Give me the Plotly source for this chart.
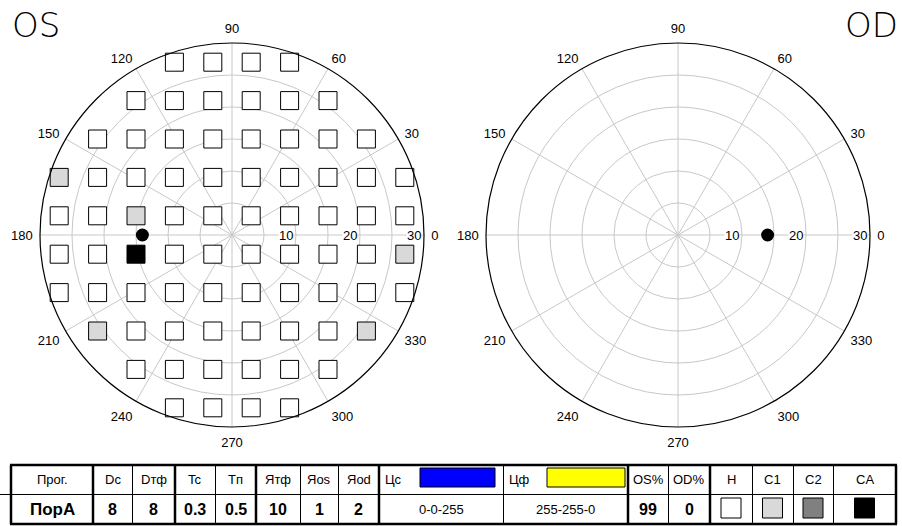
import math
import plotly.graph_objects as go

# ---------------- data ----------------
# 30-2 stimulus grid (degrees), rows of the OS field
row_y = [27, 21, 15, 9, 3, -3, -9, -15, -21, -27]
row_x = [
    [-9, -3, 3, 9],
    [-15, -9, -3, 3, 9, 15],
    [-21, -15, -9, -3, 3, 9, 15, 21],
    [-27, -21, -15, -9, -3, 3, 9, 15, 21, 27],
    [-27, -21, -15, -9, -3, 3, 9, 15, 21, 27],
    [-27, -21, -15, -9, -3, 3, 9, 15, 21, 27],
    [-27, -21, -15, -9, -3, 3, 9, 15, 21, 27],
    [-21, -15, -9, -3, 3, 9, 15, 21],
    [-15, -9, -3, 3, 9, 15],
    [-9, -3, 3, 9],
]
# points with relative defects (C1) and absolute defect (CA)
c1_points = [(-27, 9), (-15, 3), (27, -3), (-21, -15), (21, -15)]
ca_points = [(-15, -3)]

# blind spot markers (r in degrees, theta in degrees)
os_blind = (14, 180)
od_blind = (14, 0)

angular_ticks = [0, 30, 60, 90, 120, 150, 180, 210, 240, 270, 300, 330]
radial_labels = [10, 20, 30]
r_max = 30

table_headers = ["Прог.", "Dc", "Dтф", "Tc", "Tп", "Ятф", "Яos", "Яod",
                 "Цс", "Цф", "OS%", "OD%", "H", "C1", "C2", "CA"]
table_values = ["ПорА", "8", "8", "0.3", "0.5", "10", "1", "2",
                "0-0-255", "255-255-0", "99", "0", "", "", "", ""]
stim_color = "rgb(0,0,255)"
bg_color = "rgb(255,255,0)"
state_colors = {"H": "#ffffff", "C1": "#d9d9d9", "C2": "#808080", "CA": "#000000"}

# ---------------- layout constants ----------------
W, H = 902, 526
R = 192
OS_C = (232, 235)
OD_C = (678, 235)
GRID = "#c8c8c8"
FONT = "Liberation Sans, Arial, sans-serif"


def fx(px):
    return px / W


def fy(py):
    return 1 - py / H


def domain(c):
    return dict(x=[fx(c[0] - R), fx(c[0] + R)], y=[fy(c[1] + R), fy(c[1] - R)])


# stimulus points -> polar coordinates
pts_r, pts_t, pts_c = [], [], []
for y, xs in zip(row_y, row_x):
    for x in xs:
        pts_r.append(math.hypot(x, y))
        pts_t.append(math.degrees(math.atan2(y, x)))
        if (x, y) in ca_points:
            pts_c.append(state_colors["CA"])
        elif (x, y) in c1_points:
            pts_c.append(state_colors["C1"])
        else:
            pts_c.append(state_colors["H"])

fig = go.Figure()
fig.add_trace(go.Scatterpolar(
    r=pts_r, theta=pts_t, mode="markers", subplot="polar",
    marker=dict(symbol="square", size=18, color=pts_c,
                line=dict(color="#000000", width=1)),
    hoverinfo="skip", showlegend=False))
fig.add_trace(go.Scatterpolar(
    r=[os_blind[0]], theta=[os_blind[1]], mode="markers", subplot="polar",
    marker=dict(symbol="circle", size=13, color="#000000"),
    hoverinfo="skip", showlegend=False))
fig.add_trace(go.Scatterpolar(
    r=[od_blind[0]], theta=[od_blind[1]], mode="markers", subplot="polar2",
    marker=dict(symbol="circle", size=13, color="#000000"),
    hoverinfo="skip", showlegend=False))


def polar_cfg(c):
    return dict(
        domain=domain(c),
        bgcolor="white",
        radialaxis=dict(range=[0, r_max], dtick=5, tick0=0, showticklabels=False,
                        ticks="", showline=False, gridcolor=GRID, gridwidth=1),
        angularaxis=dict(tickmode="array", tickvals=angular_ticks,
                         ticktext=[str(a) for a in angular_ticks],
                         direction="counterclockwise", rotation=0,
                         showline=True, linecolor="#000000", linewidth=1.2,
                         gridcolor=GRID, gridwidth=1,
                         ticks="outside", ticklen=4, tickcolor="rgba(0,0,0,0)",
                         tickfont=dict(family=FONT, size=13, color="#000000")),
    )


annotations = []
# radial labels
for c in (OS_C, OD_C):
    for v in radial_labels:
        px = c[0] + v * R / r_max - 2
        annotations.append(dict(
            x=fx(px), y=fy(c[1]), xref="paper", yref="paper", text=str(v),
            showarrow=False, xanchor="right", yanchor="middle",
            bgcolor="white", borderpad=0,
            font=dict(family=FONT, size=13, color="#000000")))

# eye titles
TFONT = "DejaVu Sans, Liberation Sans, sans-serif"
annotations.append(dict(x=fx(10), y=fy(3), xref="paper", yref="paper", text="OS",
                        showarrow=False, xanchor="left", yanchor="top",
                        font=dict(family=TFONT, size=34, color="#000000", weight=200)))
annotations.append(dict(x=fx(900), y=fy(3), xref="paper", yref="paper", text="OD",
                        showarrow=False, xanchor="right", yanchor="top",
                        font=dict(family=TFONT, size=34, color="#000000", weight=200)))

# ---------------- table ----------------
col_edges = [11, 93, 132, 175, 215, 256, 300, 338, 379, 503, 628, 668, 710,
             752, 793, 833, 896]
thick_edges = [11, 93, 175, 256, 379, 628, 710, 896]
row_top, row_mid, row_bot = 465, 494, 524

shapes = []


def hline(x0, x1, y, w):
    shapes.append(dict(type="line", xref="paper", yref="paper", x0=fx(x0), x1=fx(x1),
                       y0=fy(y), y1=fy(y), line=dict(color="#000000", width=w)))


def vline(x, y0, y1, w):
    shapes.append(dict(type="line", xref="paper", yref="paper", x0=fx(x), x1=fx(x),
                       y0=fy(y0), y1=fy(y1), line=dict(color="#000000", width=w)))


def rect(x0, y0, x1, y1, fill):
    shapes.append(dict(type="rect", xref="paper", yref="paper", x0=fx(x0), x1=fx(x1),
                       y0=fy(y1), y1=fy(y0), fillcolor=fill,
                       line=dict(color="#000000", width=1)))


hline(col_edges[0] - 1, col_edges[-1] + 1, row_top, 2.5)
hline(col_edges[0], col_edges[-1], row_mid + 0.5, 1)
hline(0, col_edges[0], row_mid + 0.5, 1)
hline(col_edges[0] - 1, col_edges[-1] + 1, row_bot, 2.5)
for e in col_edges:
    if e in thick_edges:
        vline(e, row_top, row_bot, 2.5)
    else:
        vline(e + 0.5, row_top, row_bot, 1)

for i, (h, v) in enumerate(zip(table_headers, table_values)):
    x0, x1 = col_edges[i], col_edges[i + 1]
    cx = (x0 + x1) / 2
    if h in ("Цс", "Цф"):
        annotations.append(dict(x=fx(x0 + 4), y=fy((row_top + row_mid) / 2), xref="paper",
                                yref="paper", text=h, showarrow=False, xanchor="left",
                                yanchor="middle",
                                font=dict(family=FONT, size=13, color="#000000")))
        sw_col = stim_color if h == "Цс" else bg_color
        rect(x0 + 41 if h == "Цс" else x0 + 44, 468, x1 - 8 if h == "Цс" else x1 - 3, 487, sw_col)
    else:
        annotations.append(dict(x=fx(cx), y=fy((row_top + row_mid) / 2), xref="paper",
                                yref="paper", text=h, showarrow=False, xanchor="center",
                                yanchor="middle",
                                font=dict(family=FONT, size=13, color="#000000")))
    if h in state_colors:
        rect(cx - 10, 498, cx + 10, 518, state_colors[h])
    elif v:
        bold = h not in ("Цс", "Цф")
        annotations.append(dict(x=fx(cx), y=fy((row_mid + row_bot) / 2 + 0.5), xref="paper",
                                yref="paper", text=("<b>%s</b>" % v) if bold else v,
                                showarrow=False, xanchor="center", yanchor="middle",
                                font=dict(family=FONT, size=17 if i == 0 else (16 if bold else 13),
                                          color="#000000")))

fig.update_layout(
    width=W, height=H,
    margin=dict(l=0, r=0, t=0, b=0),
    paper_bgcolor="white", plot_bgcolor="white",
    polar=polar_cfg(OS_C), polar2=polar_cfg(OD_C),
    annotations=annotations, shapes=shapes,
    showlegend=False,
)

fig.write_html("out.html", config={"displayModeBar": False},
               post_script="document.body.style.margin='0';document.body.style.overflow='hidden';")
